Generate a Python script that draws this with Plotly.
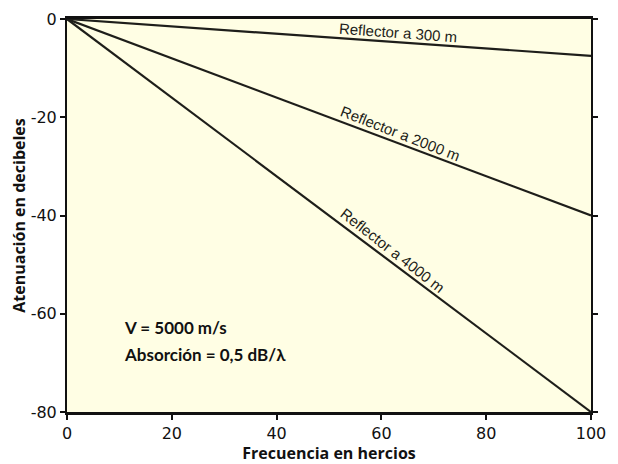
import math
import plotly.graph_objects as go

# Attenuation versus frequency for three reflector depths (V = 5000 m/s, 0.5 dB per wavelength)
freq = [0, 100]
reflectors = ["Reflector a 300 m", "Reflector a 2000 m", "Reflector a 4000 m"]
atten_300 = [0, -7.5]
atten_2000 = [0, -40]
atten_4000 = [0, -80]
series = [atten_300, atten_2000, atten_4000]
label_x = [63, 63, 61]

x_ticks = [0, 20, 40, 60, 80, 100]
y_ticks = [0, -20, -40, -60, -80]
y_ticktext = ["0", "-20", "-40", "-60", "-80"]

W, H = 618, 464
margin = dict(l=67, r=27, t=10, b=46)
plot_w = W - margin["l"] - margin["r"]
plot_h = H - margin["t"] - margin["b"]

fig = go.Figure()
for name, ys in zip(reflectors, series):
    fig.add_trace(go.Scatter(x=freq, y=ys, mode="lines", name=name,
                             line=dict(color="#1e1e1a", width=2.2),
                             showlegend=False, hoverinfo="skip"))

# Labels laid along each line, slightly above it
for name, ys, lx in zip(reflectors, series, label_x):
    slope = (ys[1] - ys[0]) / (freq[1] - freq[0])
    ly = ys[0] + slope * (lx - freq[0])
    dy_px = -slope * plot_h / 80.0
    dx_px = plot_w / 100.0
    ang = math.degrees(math.atan2(dy_px, dx_px))
    off = 10
    fig.add_annotation(x=lx, y=ly, xref="x", yref="y", text=name,
                       showarrow=False, textangle=ang,
                       xshift=off * math.sin(math.radians(ang)),
                       yshift=off * math.cos(math.radians(ang)),
                       font=dict(family="Liberation Sans", size=15, color="#1e1e1a"))

fig.add_annotation(x=10.5, y=-62.7, xref="x", yref="y", text="<b>V = 5000 m/s</b>",
                   showarrow=False, xanchor="left",
                   font=dict(family="Lato", size=17, color="#111"))
fig.add_annotation(x=10.5, y=-68.2, xref="x", yref="y", text="<b>Absorción = 0,5 dB/λ</b>",
                   showarrow=False, xanchor="left",
                   font=dict(family="Lato", size=17, color="#111"))

fig.update_layout(
    width=W, height=H, margin=margin,
    paper_bgcolor="white", plot_bgcolor="#fffee4",
    font=dict(family="Liberation Sans", color="#111"),
)
fig.update_xaxes(range=[0, 100], tickvals=x_ticks, showgrid=False, zeroline=False,
                 showline=True, linecolor="#111", linewidth=2.5, mirror=True,
                 ticks="outside", ticklen=5, tickwidth=2, tickcolor="#111",
                 tickfont=dict(family="DejaVu Sans", size=16, color="#111"),
                 title=dict(text="<b>Frecuencia en hercios</b>", standoff=0,
                            font=dict(family="Open Sans", size=16, color="#111")))
fig.update_yaxes(range=[-80, 0], tickvals=y_ticks, ticktext=y_ticktext,
                 showgrid=False, zeroline=False,
                 showline=True, linecolor="#111", linewidth=2, mirror="ticks",
                 ticks="outside", ticklen=5, tickwidth=2, tickcolor="#111",
                 tickfont=dict(family="DejaVu Sans", size=16, color="#111"),
                 title=dict(text="<b>Atenuación en decibeles</b>", standoff=1,
                            font=dict(family="Open Sans", size=16, color="#111")))

fig.write_html("out.html")
